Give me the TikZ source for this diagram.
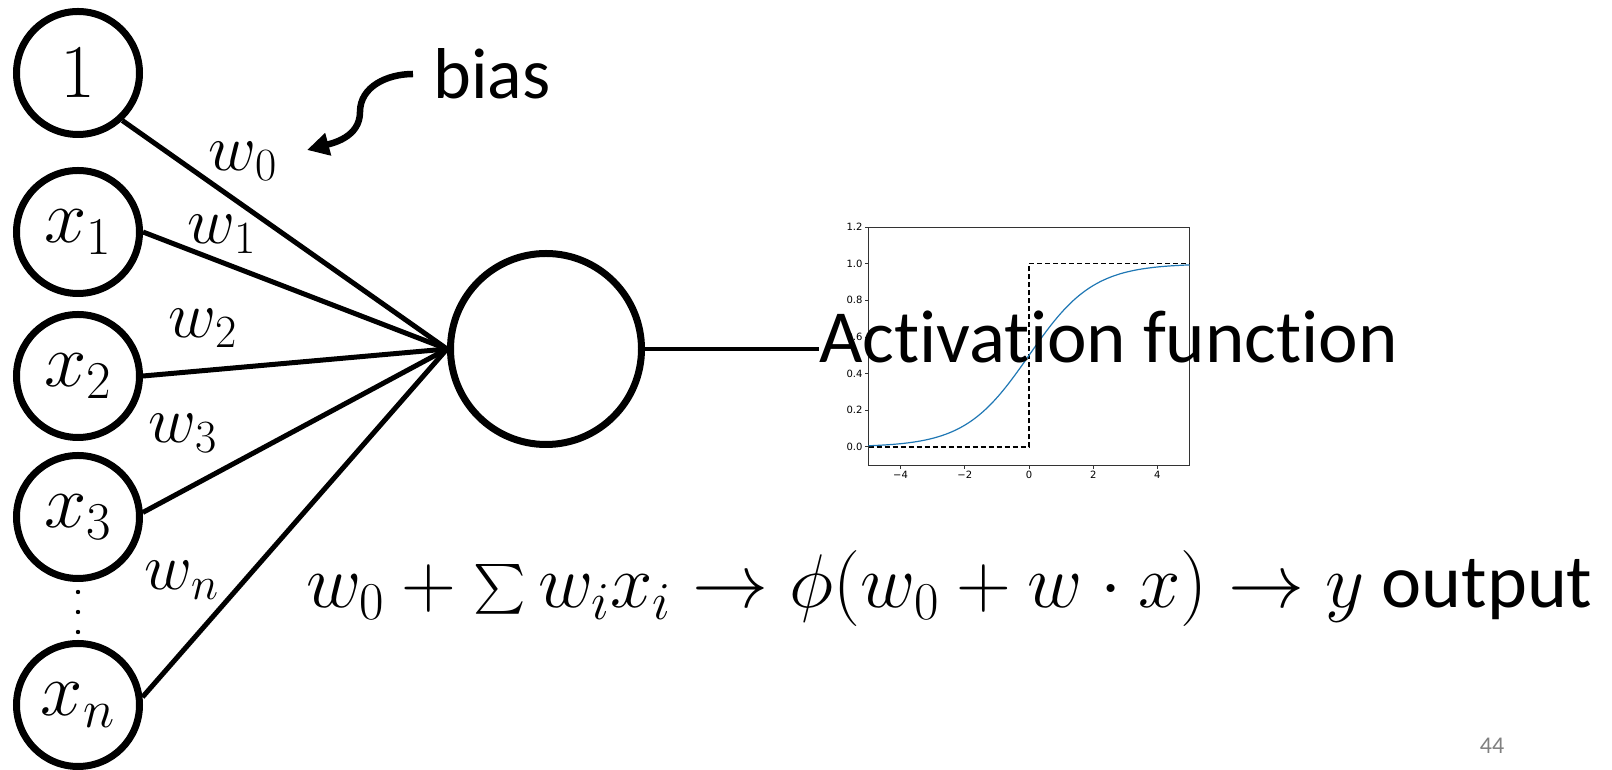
\RequirePackage{fix-cm}
\documentclass[tikz,border=0pt]{standalone}
\usepackage{exscale}
\usepackage[no-math]{fontspec}
\setmainfont{Carlito}[Ligatures=NoCommon]
\newfontfamily\plotfont{DejaVu Sans}
\usetikzlibrary{arrows.meta}

\definecolor{mplblue}{RGB}{31,119,180}

\tikzset{
  unit/.style={draw, circle, line width=3.5pt, minimum size=61.5pt, inner sep=0pt,
               font=\fontsize{38}{40}\selectfont},
  wlabel/.style={inner sep=0pt, font=\fontsize{33}{36}\selectfont},
  edge/.style={line width=2.5pt},
  plotframe/.style={draw=black!80, line width=0.5pt},
  plottick/.style={inner sep=1pt, font=\plotfont\fontsize{5}{6}\selectfont},
  stepline/.style={black, line width=0.65pt, dash pattern=on 2.5pt off 1.5pt},
  sigmoid/.style={mplblue, line width=0.6pt},
}

\begin{document}
\begin{tikzpicture}[x=0.5pt, y=0.5pt, >=Latex]
\useasboundingbox (0,0) rectangle (1612,770);

% ---- Input units ----
            \node[unit] (one) at (78,697) {$1$};
            \node[unit] (x1) at (78,538) {$x_1$};
            \node[unit] (x2) at (78,394) {$x_2$};
            \node[unit] (x3) at (78,253) {$x_3$};
            \node[unit] (xn) at (78,65) {$x_n$};

% ---- Dots between x3 and xn ----
            \foreach \y in {178,158,138} {
                \fill (78,\y) circle (1.1pt);
            }

% ---- Summing unit ----
            \node[unit, minimum size=95.5pt] (neuron) at (546,421) {};

% ---- Weighted edges (all into the west side) ----
            \foreach \n/\a in {one/-47,x1/0,x2/0,x3/4,xn/7} {
                \draw[edge] (\n.\a) -- (neuron.west);
            }

% ---- Weight labels ----
            \node[wlabel] (w0) at (243,609) {$w_0$};
            \node[wlabel] (w1) at (222,536) {$w_1$};
            \node[wlabel] (w2) at (203,442) {$w_2$};
            \node[wlabel] (w3) at (183,337) {$w_3$};
            \node[wlabel] (wn) at (182,190) {$w_n$};

% ---- Bias note ----
            \node[anchor=west, inner sep=0pt, font=\fontsize{36}{40}\selectfont] (bias) at (433,696) {bias};
            \coordinate (bend) at (360,658);
            \coordinate (biastip) at (307,620);
            \draw[line width=3.25pt, -{Triangle[length=11pt,width=11pt]}]
                ([xshift=-10pt]bias.west) to[out=180,in=90] (bend) to[out=-90,in=15] (biastip);

% ---- Activation plot ----
            \begin{scope}[shift={(1029,323)}, x=16.05pt, y=91.65pt]
                \draw[plotframe] (-5,-0.1) rectangle (5,1.2);
                \foreach \t [count=\i] in {0.0,0.2,0.4,0.6,0.8,1.0,1.2} {
                    \draw[plotframe] (-5,\t) -- ++(-1.75pt,0) node[left, plottick] (ylab\i) {\t};
                }
                \foreach \t/\lab [count=\i] in {-4/−4,-2/−2,0/0,2/2,4/4} {
                    \draw[plotframe] (\t,-0.1) -- ++(0,-1.75pt) node[below, plottick] (xlab\i) {\lab};
                }
                \draw[stepline] (-5,0) -- (0,0) -- (0,1) -- (5,1);
                \draw[sigmoid] plot[domain=-5:5, samples=80, smooth] (\x,{1/(1+exp(-\x))});
            \end{scope}

% ---- Output ----
            \node[anchor=base west, inner sep=0pt, font=\fontsize{37.5}{40}\selectfont] (act) at (819,407)
                {Activat\kern0pt ion funct\kern0pt ion};
            \draw[line width=2pt] (neuron.east) -- (act.west |- neuron.east);

% ---- Formula ----
            \node[anchor=base west, inner sep=0pt, font=\fontsize{38}{44}\selectfont] (formula) at (306,162)
                {$w_0+\sum w_i x_i \to \phi(w_0+w\cdot x)\to y$ output};

% ---- Page number ----
            \node[text=gray, font=\fontsize{12}{14}\selectfont] (page) at (1492,24) {44};

\end{tikzpicture}
\end{document}
